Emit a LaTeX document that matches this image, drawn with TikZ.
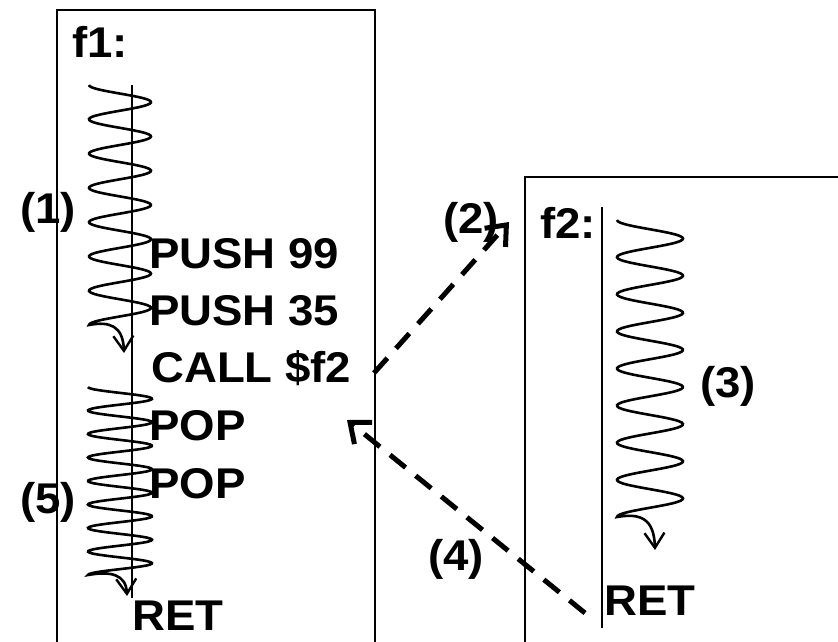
\documentclass[tikz,border=0pt]{standalone}
\usepackage{fontspec}
\setmainfont{Liberation Sans}
\usetikzlibrary{arrows.meta}
\newcommand{\Tx}[1]{\scalebox{1.06}[1]{#1}}
\tikzset{
  lbl/.style={inner sep=0pt, anchor=base west, font=\fontsize{43}{48}\selectfont\bfseries},
  framebox/.style={line width=2.4pt},
  timeline/.style={line width=2.2pt},
  snk/.style={line width=2.6pt, -{Straight Barb[length=15pt,width=20pt,line width=2.4pt]}},
  jump/.style={line width=5pt, dash pattern=on 20pt off 13pt, -{Straight Barb[length=17pt,width=28pt,line width=5pt]}}
}
\begin{document}
\begin{tikzpicture}[x=1pt,y=-1pt]
\useasboundingbox (0,0) rectangle (838,641);
\clip (0,0) rectangle (838,641);
% frames
\draw[framebox] (57,660) -- (57,10) -- (375,10) -- (375,660);
\draw[framebox] (525,660) -- (525,177) -- (860,177);
% timelines
\draw[timeline] (132,85) -- (132,598);
\draw[timeline] (602,207) -- (602,628);
% labels
\node[lbl] (f1) at (72,57) {\Tx{f1:}};
\node[lbl] (f2) at (540,238) {\Tx{f2:}};
\node[lbl] (push1) at (149,268) {\Tx{PUSH 99}};
\node[lbl] (push2) at (149,325) {\Tx{PUSH 35}};
\node[lbl] (call) at (151,382) {\Tx{CALL \$f2}};
\node[lbl] (pop1) at (149,440) {\Tx{POP}};
\node[lbl] (pop2) at (149,498) {\Tx{POP}};
\node[lbl] (ret1) at (132,630) {\Tx{RET}};
\node[lbl] (ret2) at (604,615) {\Tx{RET}};
\node[lbl] (n1) at (20,223) {\Tx{(1)}};
\node[lbl] (n5) at (20,513) {\Tx{(5)}};
\node[lbl] (n2) at (443,233) {\Tx{(2)}};
\node[lbl] (n3) at (700,397) {\Tx{(3)}};
\node[lbl] (n4) at (428,570) {\Tx{(4)}};
% execution snakes
\draw[snk] plot[smooth, domain=0:240, samples=220] ({120-31*cos(10.5*\x)}, {85+\x})
  .. controls (110,321) and (123,326) .. (124,353);
\draw[snk] plot[smooth, domain=0:188, samples=220] ({120-32*cos(15.3191*\x)}, {387+\x})
  .. controls (110,571) and (126,574) .. (127,596);
\draw[snk] plot[smooth, domain=0:297, samples=240] ({650-33*cos(9.69697*\x)}, {220+\x})
  .. controls (640,513) and (654,518) .. (655,550);
% control transfers
\coordinate (callout) at (374,373);
\coordinate (f2in) at (509,222);
\coordinate (retout) at (585,613);
\coordinate (back) at (347,420);
\draw[jump] (callout) -- (f2in);
\draw[jump] (retout) -- (back);
\end{tikzpicture}
\end{document}
